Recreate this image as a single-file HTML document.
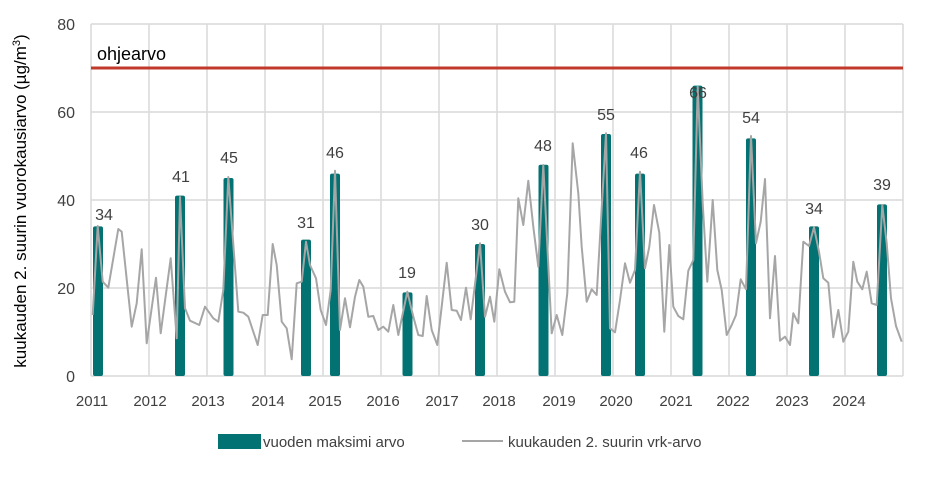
<!DOCTYPE html>
<html><head><meta charset="utf-8"><style>
body{margin:0;background:#fff;}
svg text{font-family:"Liberation Sans",sans-serif;}
</style></head><body>
<svg width="943" height="473" viewBox="0 0 943 473" xmlns="http://www.w3.org/2000/svg">
<g stroke="#d9d9d9" stroke-width="1.5">
<line x1="91" y1="24" x2="903" y2="24"/>
<line x1="91" y1="112" x2="903" y2="112"/>
<line x1="91" y1="200" x2="903" y2="200"/>
<line x1="91" y1="288" x2="903" y2="288"/>
<line x1="91" y1="376" x2="903" y2="376"/>
<line x1="91" y1="24" x2="91" y2="376"/>
<line x1="149" y1="24" x2="149" y2="376"/>
<line x1="207" y1="24" x2="207" y2="376"/>
<line x1="265" y1="24" x2="265" y2="376"/>
<line x1="323" y1="24" x2="323" y2="376"/>
<line x1="381" y1="24" x2="381" y2="376"/>
<line x1="439" y1="24" x2="439" y2="376"/>
<line x1="497" y1="24" x2="497" y2="376"/>
<line x1="555" y1="24" x2="555" y2="376"/>
<line x1="613" y1="24" x2="613" y2="376"/>
<line x1="671" y1="24" x2="671" y2="376"/>
<line x1="729" y1="24" x2="729" y2="376"/>
<line x1="787" y1="24" x2="787" y2="376"/>
<line x1="845" y1="24" x2="845" y2="376"/>
<line x1="903" y1="24" x2="903" y2="376"/>
</g>
<line x1="91" y1="68" x2="903" y2="68" stroke="#c0392b" stroke-width="3"/>
<text x="97" y="60" font-size="18" fill="#000">ohjearvo</text>
<g fill="#037272">
<rect x="93" y="226.4" width="10" height="149.6" rx="2"/>
<rect x="175" y="195.6" width="10" height="180.4" rx="2"/>
<rect x="223.5" y="178" width="10" height="198" rx="2"/>
<rect x="301" y="239.6" width="10" height="136.4" rx="2"/>
<rect x="330" y="173.6" width="10" height="202.4" rx="2"/>
<rect x="402.5" y="292.4" width="10" height="83.6" rx="2"/>
<rect x="475" y="244" width="10" height="132" rx="2"/>
<rect x="538.5" y="164.8" width="10" height="211.2" rx="2"/>
<rect x="601" y="134" width="10" height="242" rx="2"/>
<rect x="635" y="173.6" width="10" height="202.4" rx="2"/>
<rect x="692.5" y="85.6" width="10" height="290.4" rx="2"/>
<rect x="746" y="138.4" width="10" height="237.6" rx="2"/>
<rect x="809" y="226.4" width="10" height="149.6" rx="2"/>
<rect x="877" y="204.4" width="10" height="171.6" rx="2"/>
</g>
<polyline fill="none" stroke="#a6a6a6" stroke-width="2" stroke-linejoin="round" points="92.7,315 97.7,226 102.7,281.7 108.3,287.7 118.3,229 121.7,231.7 131.7,326.7 136.7,303.3 141.7,249.3 146.7,343.3 156,277.7 160.7,333.3 170.7,258.3 176.7,338.3 180,197 185,308.3 190,320.7 199.3,325 205,306.7 213.3,318.3 218.3,321.7 223.3,290 228.3,177 238.3,311.7 243.3,312.7 248.3,316.7 257.7,345 262.7,315 267.7,315 272.7,244 276.7,265 281.7,321.7 286.7,328.3 291.7,359.3 296.7,283.3 301.7,281.7 306,241.7 310,265 316,278.3 320.7,310 326,325 330.7,290 335,170.7 340,330 345,298.3 350,327.3 355,296.7 359.3,280 363.3,286.7 368.3,316.7 373.3,316 378.3,330 383.3,326.7 388.3,331.7 393.3,305 398.3,335 407.3,291.7 413.3,316.7 418.3,335 422.7,336 426.7,296 431.7,330 437.3,345 446.7,262.7 451.7,310 456.7,310.7 461,320 466,287.7 470.7,319.3 480,243.3 485,316.7 490,296.7 494.3,321.7 499.3,269.3 505,291.7 510,302.3 514.3,301.7 518.3,198.3 523.3,225 528.3,180.7 533.3,226.7 538.3,266.7 543.3,165 551.7,333.3 556.7,315 562.3,335 567.3,293.3 572.7,143.3 578.3,193.3 581.7,246.7 586.7,301.7 591.7,289.3 596.7,295 606,133.3 610,328.3 615,332.3 620,300 625,263.3 630,282.7 635,270 640,171.7 645,268.3 649.3,246.7 654,205 659.3,232.7 664.3,331.7 669.3,245 673.3,306.7 678.3,316 683.3,319.3 688.3,270.7 693.3,260 697.7,86.7 702.7,203.3 707.3,281.7 712.7,200 717.3,270 721.7,290 726.7,335 731.7,325 736,315 740.7,279.3 746,289.3 751,136 756,243.3 760.7,221.7 765,179 770,318.3 775,256 780,340.7 785,336.7 790,345 793.3,313.3 798.3,323.3 803.3,241.7 809,246 814,227.3 819,251.7 823.3,278.3 828.3,282.7 833.3,337.3 838.3,310 843.3,341.7 848.3,331.7 853.3,261.7 857.3,281.7 862.3,289.3 866.7,271.7 871.7,303.3 876.7,305 882.3,205 886.7,243.3 891,298.3 896,326 901.7,341.7"/>
<g font-size="16" fill="#404040" text-anchor="middle">
<text x="104" y="220">34</text>
<text x="181" y="182">41</text>
<text x="229" y="163">45</text>
<text x="306" y="228">31</text>
<text x="335" y="158">46</text>
<text x="407" y="278">19</text>
<text x="480" y="230">30</text>
<text x="543" y="151">48</text>
<text x="606" y="120">55</text>
<text x="639" y="158">46</text>
<text x="698" y="98">66</text>
<text x="751" y="123">54</text>
<text x="814" y="214">34</text>
<text x="882" y="190">39</text>
</g>
<g font-size="16" fill="#404040" text-anchor="end">
<text x="75" y="30">80</text>
<text x="75" y="118">60</text>
<text x="75" y="206">40</text>
<text x="75" y="294">20</text>
<text x="75" y="382">0</text>
</g>
<g font-size="15" fill="#404040" text-anchor="middle">
<text x="92" y="406">2011</text>
<text x="150" y="406">2012</text>
<text x="208" y="406">2013</text>
<text x="268" y="406">2014</text>
<text x="325" y="406">2015</text>
<text x="383" y="406">2016</text>
<text x="442" y="406">2017</text>
<text x="499" y="406">2018</text>
<text x="559" y="406">2019</text>
<text x="616" y="406">2020</text>
<text x="676" y="406">2021</text>
<text x="733" y="406">2022</text>
<text x="792" y="406">2023</text>
<text x="849" y="406">2024</text>
</g>
<text transform="translate(26,201) rotate(-90)" font-size="17" fill="#000" text-anchor="middle">kuukauden 2. suurin vuorokausiarvo (µg/m<tspan font-size="11" dy="-6">3</tspan><tspan dy="6">)</tspan></text>
<rect x="218" y="434" width="43" height="15" fill="#037272"/>
<text x="263" y="447" font-size="15" fill="#404040">vuoden maksimi arvo</text>
<line x1="462" y1="441" x2="503" y2="441" stroke="#a6a6a6" stroke-width="2"/>
<text x="508" y="447" font-size="15" fill="#404040">kuukauden 2. suurin vrk-arvo</text>
</svg>
</body></html>
